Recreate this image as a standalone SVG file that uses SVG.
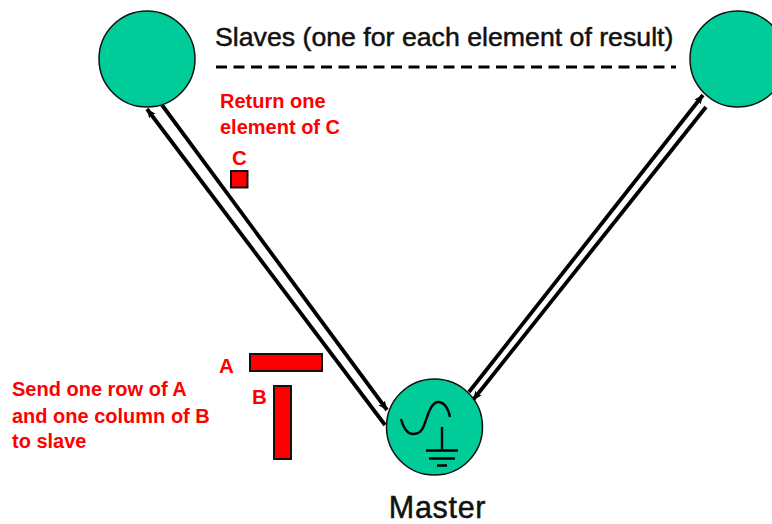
<svg xmlns="http://www.w3.org/2000/svg" width="772" height="524" viewBox="0 0 772 524">
<style>
.n{fill:#00cc99;stroke:#111;stroke-width:1.5}
.c{fill:none;stroke:#000;stroke-width:3.8}
.s{fill:none;stroke:#000;stroke-width:2.400}
.b{fill:#f00;stroke:#111;stroke-width:2}
.k{font-family:"Liberation Sans",Arial,sans-serif;fill:#111;stroke:#111;stroke-width:.5}
.r{font-family:"Liberation Sans",Arial,sans-serif;fill:#f00;font-size:20px;font-weight:bold}
.l{font-size:20.500px}
</style>
<defs>
<marker id="a" markerUnits="userSpaceOnUse" markerWidth="12" markerHeight="12" refX="9" refY="5" orient="auto"><path d="M0 1L9 5L0 9L2 5Z" fill="#000"/></marker>
</defs>
<rect width="772" height="524" fill="#fff"/>
<g id="connectors">
<path class="c" d="M385 425L147 109" marker-end="url(#a)"/>
<path class="c" d="M162 105L387 410" marker-end="url(#a)"/>
<path class="c" d="M469 392L703 95" marker-end="url(#a)"/>
<path class="c" d="M706 107L473 400" marker-end="url(#a)"/>
<path d="M216 67H676" fill="none" stroke="#000" stroke-width="3" stroke-dasharray="11 6.500"/>
</g>
<g id="slave-left"><circle class="n" cx="147" cy="59" r="48"/></g>
<g id="slave-right"><circle class="n" cx="738" cy="59" r="48"/></g>
<g id="master">
<circle class="n" cx="434.500" cy="427" r="48"/>
<path class="s" d="M401 419C404 430 408 434 413 434C423 434 424 425 427 417C430 408 433 402 438 402C444 402 448 408 450 417"/>
<path class="s" d="M442 427V450M426 450.500H458M429 458.500H455M437 465.500H447"/>
<text class="k" x="437.500" y="517.500" font-size="30.500" letter-spacing=".7" text-anchor="middle">Master</text>
</g>
<g id="title"><text class="k" x="215" y="46" font-size="26.700">Slaves (one for each element of result)</text></g>
<g id="return-label">
<text class="r" x="220" y="108">Return one</text>
<text class="r" x="220" y="134">element of C</text>
</g>
<g id="matrix-c">
<text class="r l" x="232" y="165">C</text>
<rect class="b" x="231" y="171" width="16.500" height="16.500"/>
</g>
<g id="matrix-a">
<text class="r l" x="219" y="373">A</text>
<rect class="b" x="250" y="354" width="72" height="17"/>
</g>
<g id="matrix-b">
<text class="r l" x="252" y="404">B</text>
<rect class="b" x="274" y="386" width="17" height="73"/>
</g>
<g id="send-label">
<text class="r" x="12" y="396">Send one row of A</text>
<text class="r" x="12" y="423">and one column of B</text>
<text class="r" x="12" y="448">to slave</text>
</g>
</svg>
